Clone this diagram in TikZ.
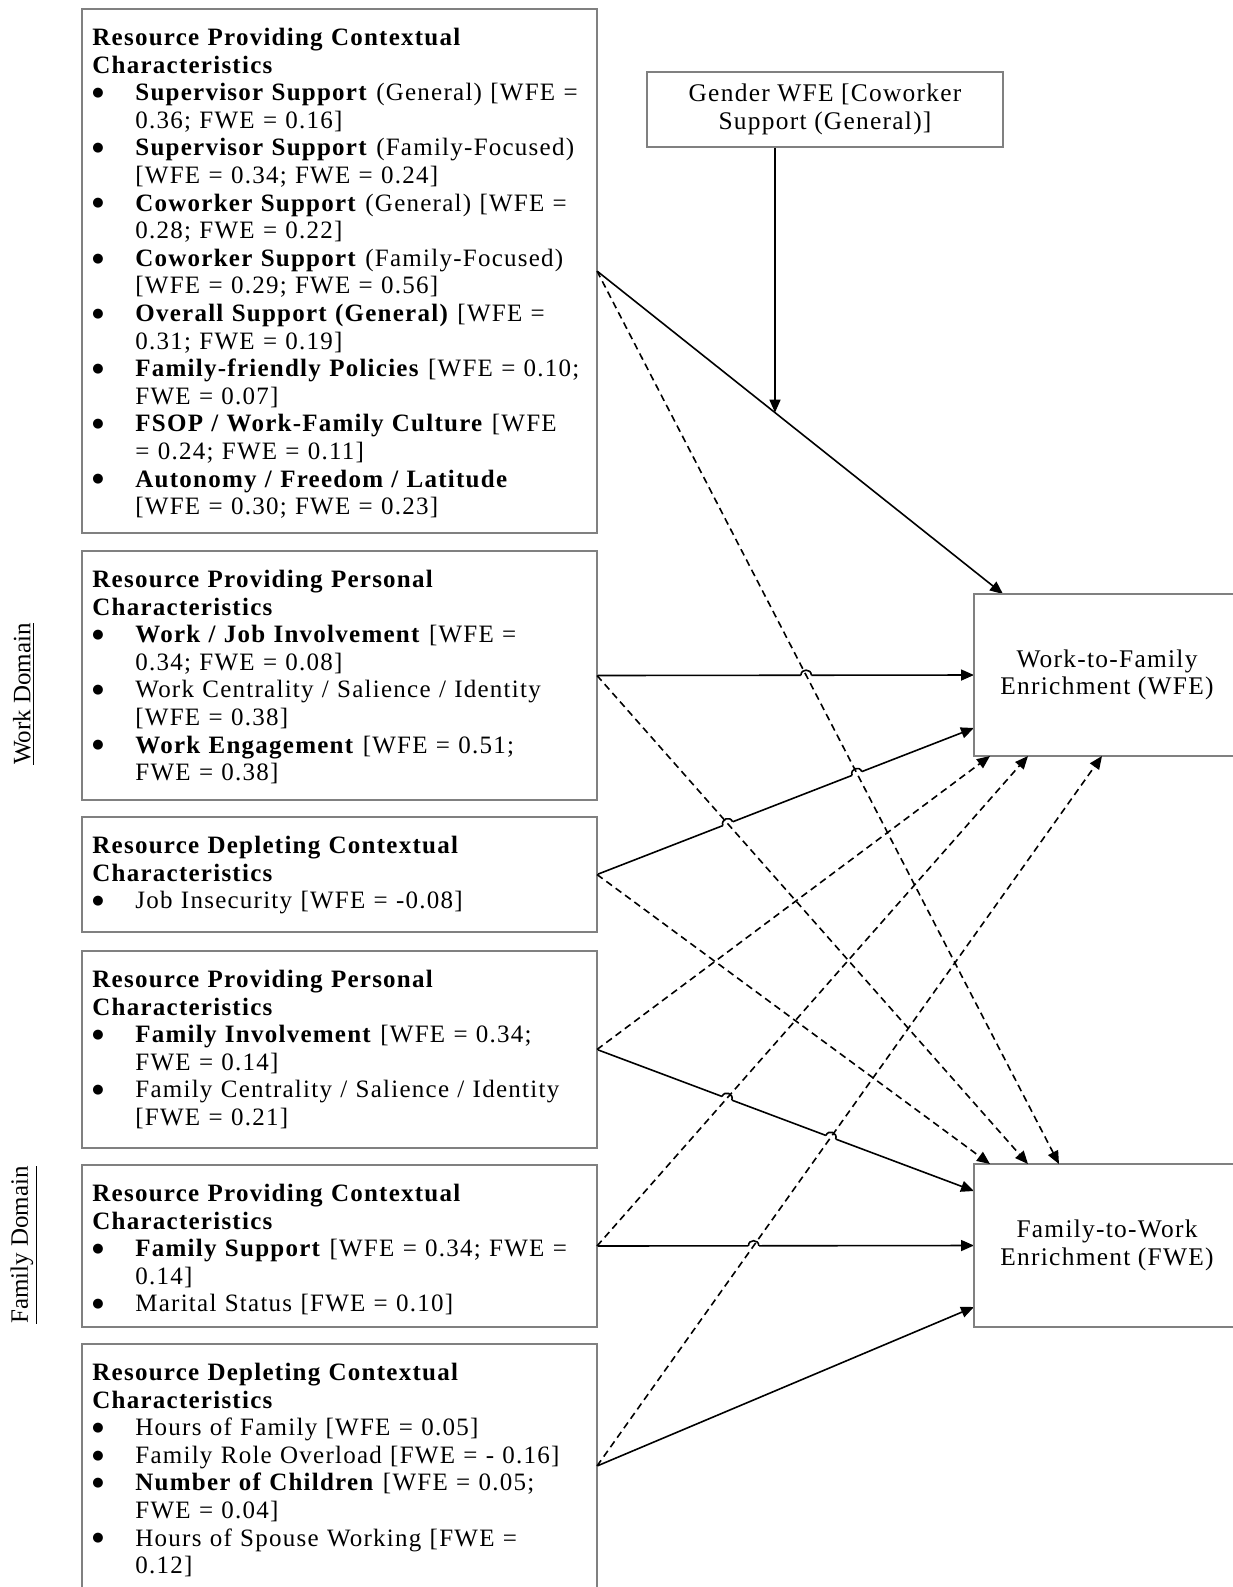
\documentclass[tikz,border=0pt]{standalone}
\usepackage{fontspec}
\setmainfont{Liberation Serif}[LetterSpace=5]
\newfontfamily\plainf{Liberation Serif}
\newfontfamily\dejavu{DejaVu Sans}
\usetikzlibrary{arrows.meta,calc,intersections}
\pgfdeclarelayer{solidl}
\pgfdeclarelayer{gapl}
\pgfsetlayers{solidl,gapl,main}
\newcommand\bi[1]{\makebox[21.5pt][l]{\raisebox{2.1pt}{\dejavu\fontsize{6.5}{7}\selectfont ●}}#1}
\newcommand\ci[1]{\hspace*{21.5pt}#1}
\newcommand\hopgap[2]{%
  \path ($(#1)!2.6pt!(#2)$) coordinate (hp1) ($(#1)!-2.6pt!(#2)$) coordinate (hp2);
  \draw[white, line width=2.4pt] (hp1) -- (hp2);}
\newcommand\hoparc[2]{%
  \path ($(#1)!2.6pt!(#2)$) coordinate (hp1) ($(#1)!-2.6pt!(#2)$) coordinate (hp2);
  \draw[line width=0.8pt] (hp1) .. controls ($(hp1)!3.4pt!90:(#1)$) and ($(hp2)!3.4pt!-90:(#1)$) .. (hp2);}
\begin{document}
\begin{tikzpicture}[x=0.5pt,y=-0.5pt,
  box/.style={draw=black!50, line width=0.75pt, anchor=north west, inner sep=0pt, outer sep=0pt},
  txt/.style={anchor=north west, inner sep=0pt, text width=320pt, align=left, font=\fontsize{12.5}{13.8}\selectfont},
  ctr/.style={align=center, inner sep=0pt, font=\fontsize{12.7}{13.8}\selectfont},
  conn/.style={line width=0.8pt, -{Triangle[length=6.5pt,width=5.5pt]}},
  dashc/.style={conn, dash pattern=on 3.5pt off 2.3pt},
]
\useasboundingbox (0,0) rectangle (1233,1587);

% left boxes
\node[box, minimum width=257.5pt, minimum height=262pt] (wc) at (82,9) {};
\node[box, minimum width=257.5pt, minimum height=124.5pt] (wp) at (82,551) {};
\node[box, minimum width=257.5pt, minimum height=57.5pt] (wd) at (82,817) {};
\node[box, minimum width=257.5pt, minimum height=98.5pt] (fp) at (82,951) {};
\node[box, minimum width=257.5pt, minimum height=81pt] (fc) at (82,1165) {};
\node[box, minimum width=257.5pt, minimum height=122pt] (fd) at (82,1344) {};
% right boxes
\node[box, minimum width=178pt, minimum height=37.5pt] (gender) at (647,72) {};
\node[box, minimum width=133pt, minimum height=81pt] (wfe) at (974,594) {};
\node[box, minimum width=133pt, minimum height=81.5pt] (fwe) at (974,1164) {};

\node[ctr] (genderT) at (gender.center) {Gender WFE [Coworker\\Support (General)]};
\node[ctr] (wfeT) at (wfe.center) {Work-to-Family\\Enrichment (WFE)};
\node[ctr] (fweT) at (fwe.center) {Family-to-Work\\Enrichment (FWE)};

\node[txt] (wcT) at ([xshift=5pt,yshift=-8.34pt]wc.north west) {\strut\textbf{Resource Providing Contextual}\\
\textbf{Characteristics}\\
\bi{\textbf{Supervisor Support} (General) [WFE =}\\
\ci{0.36; FWE = 0.16]}\\
\bi{\textbf{Supervisor Support} (Family-Focused)}\\
\ci{[WFE = 0.34; FWE = 0.24]}\\
\bi{\textbf{Coworker Support} (General) [WFE =}\\
\ci{0.28; FWE = 0.22]}\\
\bi{\textbf{Coworker Support} (Family-Focused)}\\
\ci{[WFE = 0.29; FWE = 0.56]}\\
\bi{\textbf{Overall Support (General)} [WFE =}\\
\ci{0.31; FWE = 0.19]}\\
\bi{\textbf{Family-friendly Policies} [WFE = 0.10;}\\
\ci{FWE = 0.07]}\\
\bi{\textbf{FSOP / Work-Family Culture} [WFE}\\
\ci{= 0.24; FWE = 0.11]}\\
\bi{\textbf{Autonomy / Freedom / Latitude}}\\
\ci{[WFE = 0.30; FWE = 0.23]}};

\node[txt] (wpT) at ([xshift=5pt,yshift=-8.34pt]wp.north west) {\strut\textbf{Resource Providing Personal}\\
\textbf{Characteristics}\\
\bi{\textbf{Work / Job Involvement} [WFE =}\\
\ci{0.34; FWE = 0.08]}\\
\bi{Work Centrality / Salience / Identity}\\
\ci{[WFE = 0.38]}\\
\bi{\textbf{Work Engagement} [WFE = 0.51;}\\
\ci{FWE = 0.38]}};

\node[txt] (wdT) at ([xshift=5pt,yshift=-8.34pt]wd.north west) {\strut\textbf{Resource Depleting Contextual}\\
\textbf{Characteristics}\\
\bi{Job Insecurity [WFE = -0.08]}};

\node[txt] (fpT) at ([xshift=5pt,yshift=-8.34pt]fp.north west) {\strut\textbf{Resource Providing Personal}\\
\textbf{Characteristics}\\
\bi{\textbf{Family Involvement} [WFE = 0.34;}\\
\ci{FWE = 0.14]}\\
\bi{Family Centrality / Salience / Identity}\\
\ci{[FWE = 0.21]}};

\node[txt] (fcT) at ([xshift=5pt,yshift=-8.34pt]fc.north west) {\strut\textbf{Resource Providing Contextual}\\
\textbf{Characteristics}\\
\bi{\textbf{Family Support} [WFE = 0.34; FWE =}\\
\ci{0.14]}\\
\bi{Marital Status [FWE = 0.10]}};

\node[txt] (fdT) at ([xshift=5pt,yshift=-8.34pt]fd.north west) {\strut\textbf{Resource Depleting Contextual}\\
\textbf{Characteristics}\\
\bi{Hours of Family [WFE = 0.05]}\\
\bi{Family Role Overload [FWE = - 0.16]}\\
\bi{\textbf{Number of Children} [WFE = 0.05;}\\
\ci{FWE = 0.04]}\\
\bi{Hours of Spouse Working [FWE =}\\
\ci{0.12]}};

% domain labels
\node[rotate=90, inner sep=0pt, font=\plainf\fontsize{12.5}{13.8}\selectfont] (wdom) at (24,694) {\underline{Work Domain}};
\node[rotate=90, inner sep=0pt, font=\plainf\fontsize{12.5}{13.8}\selectfont] (fdom) at (24,1245) {\underline{Family Domain}};

% solid connectors
\begin{pgfonlayer}{solidl}
\draw[conn, name path global=sA] (wc.east) -- ([xshift=14.5pt]wfe.north west);
\draw[conn, name path global=sB] (wp.east) -- (wfe.west);
\draw[conn, name path global=sC] (wd.east) -- ([yshift=-26.5pt]wfe.west);
\draw[conn, name path global=sD] (fp.east) -- ([yshift=27.25pt]fwe.west);
\draw[conn, name path global=sE] (fc.east) -- (fwe.west);
\draw[conn, name path global=sF] (fd.east) -- ([yshift=-30.75pt]fwe.west);
\path[name path global=gv] ([xshift=-25pt]gender.south) -- ++(0,400);
\path[name intersections={of=gv and sA, by=gx}];
\draw[conn] ([xshift=-25pt]gender.south) -- (gx);
\end{pgfonlayer}

% dashed connectors
\draw[dashc, name path=dA] (wc.east) -- ([xshift=42.5pt]fwe.north west);
\draw[dashc, name path=dB] (wp.east) -- ([xshift=27pt]fwe.north west);
\draw[dashc, name path=dC] (wd.east) -- ([xshift=8pt]fwe.north west);
\draw[dashc, name path=dD] (fp.east) -- ([xshift=8pt]wfe.south west);
\draw[dashc, name path=dE] (fc.east) -- ([xshift=27pt]wfe.south west);
\draw[dashc, name path=dF] (fd.east) -- ([xshift=64pt]wfe.south west);

% crossings
\path[name intersections={of=sB and dA, by=xBA}];
\path[name intersections={of=sC and dA, by=xCA}];
\path[name intersections={of=sC and dB, by=xCB}];
\path[name intersections={of=sD and dE, by=xDE}];
\path[name intersections={of=sD and dF, by=xDF}];
\path[name intersections={of=sE and dF, by=xEF}];

\begin{pgfonlayer}{gapl}
\hopgap{xBA}{wp.east}
\hopgap{xCA}{wd.east}
\hopgap{xCB}{wd.east}
\hopgap{xDE}{fp.east}
\hopgap{xDF}{fp.east}
\hopgap{xEF}{fc.east}
\end{pgfonlayer}
\hoparc{xBA}{wp.east}
\hoparc{xCA}{wd.east}
\hoparc{xCB}{wd.east}
\hoparc{xDE}{fp.east}
\hoparc{xDF}{fp.east}
\hoparc{xEF}{fc.east}
\end{tikzpicture}
\end{document}
